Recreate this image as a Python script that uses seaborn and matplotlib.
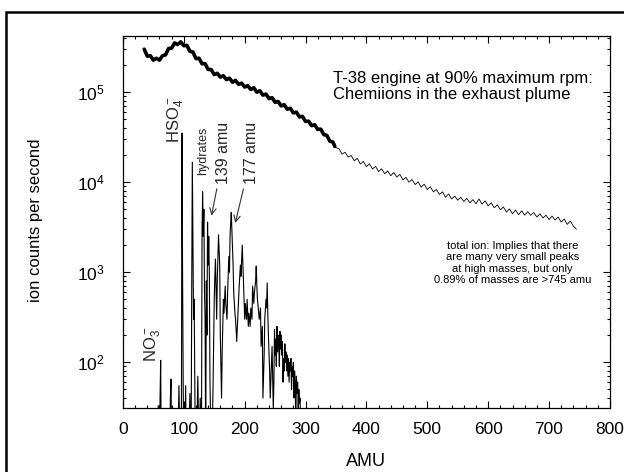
import pandas as pd
import matplotlib
matplotlib.use("Agg")
import matplotlib.pyplot as plt
import matplotlib.ticker as mticker
from matplotlib.patches import Rectangle
import seaborn as sns

# total ion signal, dense/noisy part (drawn as a thick band)
total_amu_dense = [35, 40, 45, 50, 55, 60, 65, 70, 75, 80, 85, 90, 95, 100, 105, 110,
                   115, 120, 125, 130, 135, 140, 145, 150, 155, 160, 165, 170, 175,
                   180, 185, 190, 195, 200, 205, 210, 215, 220, 225, 230, 235, 240,
                   245, 250, 255, 260, 265, 270, 275, 280, 285, 290, 295, 300, 305,
                   310, 315, 320, 325, 330, 335, 340, 345, 348]
total_cps_dense = [3.0e5, 2.51e5, 2.54e5, 2.27e5, 2.38e5, 2.27e5, 2.54e5, 2.6e5, 3.05e5,
                   3.09e5, 3.52e5, 3.38e5, 3.62e5, 3.28e5, 3.31e5, 2.85e5, 2.79e5,
                   2.36e5, 2.38e5, 2.07e5, 2.07e5, 1.79e5, 1.78e5, 1.57e5, 1.62e5,
                   1.47e5, 1.52e5, 1.38e5, 1.43e5, 1.29e5, 1.35e5, 1.22e5, 1.26e5,
                   1.14e5, 1.18e5, 1.07e5, 1.12e5, 1.0e5, 1.035e5, 9.26e4, 9.52e4,
                   8.49e4, 8.69e4, 7.72e4, 7.87e4, 7.04e4, 7.25e4, 6.47e4, 6.62e4,
                   5.89e4, 6.0e4, 5.31e4, 5.38e4, 4.73e4, 4.76e4, 4.25e4, 4.35e4,
                   3.86e4, 3.88e4, 3.38e4, 3.31e4, 2.85e4, 2.79e4, 2.5e4]

# total ion signal, high mass tail (drawn thin)
total_amu_tail = [348, 355, 360, 365, 370, 375, 380, 385, 390, 395, 400, 405, 410, 415,
                  420, 425, 430, 435, 440, 445, 450, 455, 460, 465, 470, 475, 480,
                  485, 490, 495, 500, 505, 510, 515, 520, 525, 530, 535, 540, 545,
                  550, 555, 560, 565, 570, 575, 580, 585, 590, 595, 600, 605, 610,
                  615, 620, 625, 630, 635, 640, 645, 650, 655, 660, 665, 670, 675,
                  680, 685, 690, 695, 700, 705, 710, 715, 720, 725, 730, 735, 740, 745]
total_cps_tail = [2.45e4, 2.35e4, 2.05e4, 2.15e4, 1.9e4, 1.98e4, 1.73e4, 1.84e4, 1.59e4,
                  1.7e4, 1.49e4, 1.6e4, 1.4e4, 1.5e4, 1.31e4, 1.41e4, 1.24e4, 1.33e4,
                  1.18e4, 1.28e4, 1.14e4, 1.22e4, 1.06e4, 1.13e4, 1.0e4, 1.07e4,
                  9.4e3, 1.01e4, 8.8e3, 9.5e3, 8.3e3, 8.9e3, 7.8e3, 8.3e3, 7.3e3,
                  7.8e3, 6.8e3, 7.4e3, 6.5e3, 7.0e3, 6.3e3, 6.8e3, 6.1e3, 6.6e3,
                  5.9e3, 6.4e3, 5.75e3, 6.5e3, 5.7e3, 6.2e3, 5.45e3, 5.9e3, 5.2e3,
                  5.6e3, 4.95e3, 5.3e3, 4.65e3, 5.05e3, 4.45e3, 4.9e3, 4.35e3, 4.8e3,
                  4.3e3, 4.7e3, 4.3e3, 4.6e3, 4.1e3, 4.45e3, 4.0e3, 4.3e3, 3.85e3,
                  4.2e3, 3.8e3, 4.1e3, 3.6e3, 3.9e3, 3.4e3, 3.7e3, 3.25e3, 3.0e3]

# mass resolved chemiion spectrum (peaks and valleys, valleys fall below the axis)
peak_amu = [50, 57, 58, 59, 60, 61, 62, 63, 76, 78,
            79, 80, 90, 92, 94, 96, 97, 98, 99, 100,
            102, 103, 104, 108, 110, 112, 113, 114, 115, 116,
            117, 119, 121, 123, 125, 127, 129, 130, 131, 132,
            133, 134, 135, 136, 137, 138, 139, 140, 141, 142,
            143, 145, 146, 148, 150, 151, 152, 153, 154, 155,
            156, 157, 158, 159, 160, 162, 163, 165, 166, 168,
            169, 171, 172, 174, 175, 176, 177, 178, 179, 180,
            181, 182, 184, 185, 187, 188, 190, 191, 193, 194,
            196, 197, 198, 200, 201, 203, 204, 206, 207, 209,
            210, 212, 213, 215, 216, 218, 219, 220, 221, 223,
            224, 226, 227, 229, 230, 232, 233, 235, 236, 237,
            238, 239, 241, 242, 244, 245, 247, 248, 249, 250,
            251, 252, 253, 254, 255, 256, 257, 258, 259, 260,
            261, 262, 263, 264, 265, 266, 267, 268, 269, 270,
            271, 272, 273, 274, 275, 276, 277, 278, 279, 280,
            281, 282, 283, 284, 285, 286, 287, 288, 289, 290,
            291, 293]
peak_cps = [10, 10, 33, 10, 10, 40, 105, 10, 10, 40,
            65, 10, 10, 55, 10, 10, 35000, 900, 60, 10,
            10, 55, 10, 10, 45, 10, 600, 16700, 2200, 300,
            500, 10, 10, 70, 10, 40, 10, 3000, 7900, 2500,
            5000, 600, 300, 10, 800, 200, 3600, 1200, 2500, 900,
            60, 10, 10, 50, 500, 900, 1400, 600, 300, 800,
            1500, 2600, 1800, 1200, 200, 40, 120, 500, 350, 700,
            450, 300, 600, 1500, 1000, 2500, 3500, 4600, 3000, 2000,
            1200, 600, 350, 300, 170, 250, 500, 700, 1200, 900,
            2000, 1300, 800, 300, 450, 300, 500, 250, 350, 250,
            400, 300, 700, 450, 600, 800, 1170, 700, 500, 350,
            300, 400, 150, 250, 40, 120, 300, 500, 400, 760,
            350, 200, 80, 40, 100, 150, 30, 60, 230, 120,
            180, 90, 250, 130, 200, 160, 90, 220, 140, 200,
            120, 170, 60, 110, 80, 160, 100, 130, 80, 120,
            70, 110, 60, 100, 80, 110, 50, 90, 70, 100,
            40, 80, 60, 20, 70, 45, 60, 30, 50, 35,
            40, 10]

x_ticks = [0, 100, 200, 300, 400, 500, 600, 700, 800]

sns.set_theme(style="white")
plt.rcParams['font.family'] = ['Liberation Sans', 'DejaVu Sans']
plt.rcParams['mathtext.fontset'] = 'custom'
plt.rcParams['mathtext.rm'] = 'Liberation Sans'
plt.rcParams['mathtext.it'] = 'Liberation Sans:italic'
plt.rcParams['mathtext.bf'] = 'Liberation Sans:bold'

fig = plt.figure(figsize=(6.24, 4.72), dpi=100)
ax = fig.add_axes([0.197, 0.1356, 0.7804, 0.788])

dense_df = pd.DataFrame({'amu': total_amu_dense, 'cps': total_cps_dense})
tail_df = pd.DataFrame({'amu': total_amu_tail, 'cps': total_cps_tail})
peak_df = pd.DataFrame({'amu': peak_amu, 'cps': peak_cps})

sns.lineplot(data=peak_df, x='amu', y='cps', color='black', lw=0.8, ax=ax)
sns.lineplot(data=dense_df, x='amu', y='cps', color='black', lw=2.6, ax=ax)
sns.lineplot(data=tail_df, x='amu', y='cps', color='black', lw=0.6, ax=ax)

ax.set_yscale('log')
ax.set_xlim(0, 800)
ax.set_ylim(31, 4.2e5)
ax.set_xticks(x_ticks)
ax.xaxis.set_minor_locator(mticker.MultipleLocator(20))
ax.yaxis.set_minor_locator(mticker.LogLocator(base=10, subs=range(2, 10)))
ax.yaxis.set_minor_formatter(mticker.NullFormatter())

ax.tick_params(which='both', direction='in', top=True, right=True,
               bottom=True, left=True, color='black', width=0.8)
ax.tick_params(which='major', length=5, labelsize=12.5, colors='black')
ax.tick_params(axis='x', which='major', pad=10)
ax.tick_params(axis='y', which='major', pad=13)
ax.tick_params(which='minor', length=2.5)
for sp in ax.spines.values():
    sp.set_color('black')
    sp.set_linewidth(0.9)

ax.set_xlabel('AMU', fontsize=13, color='black')
ax.set_ylabel('ion counts per second', fontsize=12, color='black')
ax.xaxis.set_label_coords(0.5, -0.122)
ax.yaxis.set_label_coords(-0.164, 0.505)

ax.text(0.431, 0.906, 'T-38 engine at 90% maximum rpm:\nChemiions in the exhaust plume',
        transform=ax.transAxes, ha='left', va='top', fontsize=12, linespacing=1.05,
        color='black')
ax.text(0.80, 0.39, 'total ion: Implies that there\nare many very small peaks\n'
        'at high masses, but only\n0.89% of masses are >745 amu',
        transform=ax.transAxes, ha='center', va='center', fontsize=8,
        linespacing=1.15, color='black')

ax.text(87, 2.7e4, r'HSO$_4^-$', rotation=90, ha='center', va='bottom', fontsize=12)
ax.text(49, 100, r'NO$_3^-$', rotation=90, ha='center', va='bottom', fontsize=12)
ax.text(131, 1.2e4, 'hydrates', rotation=90, ha='center', va='bottom', fontsize=9)

arrow = dict(arrowstyle='->', color='#333333', lw=0.8, shrinkA=1, shrinkB=1)
ax.annotate('139 amu', xy=(145, 4.1e3), xytext=(166, 9.5e3), rotation=90,
            ha='center', va='bottom', fontsize=11.5, arrowprops=arrow)
ax.annotate('177 amu', xy=(184, 3.4e3), xytext=(212, 9.5e3), rotation=90,
            ha='center', va='bottom', fontsize=11.5, arrowprops=arrow)

# outer frame of the original figure
fig.patches.append(Rectangle((6 / 624, -0.1), 1.2, 1.0746, transform=fig.transFigure,
                             fill=False, lw=1.8, edgecolor='black'))

fig.savefig('out.png', dpi=100)
